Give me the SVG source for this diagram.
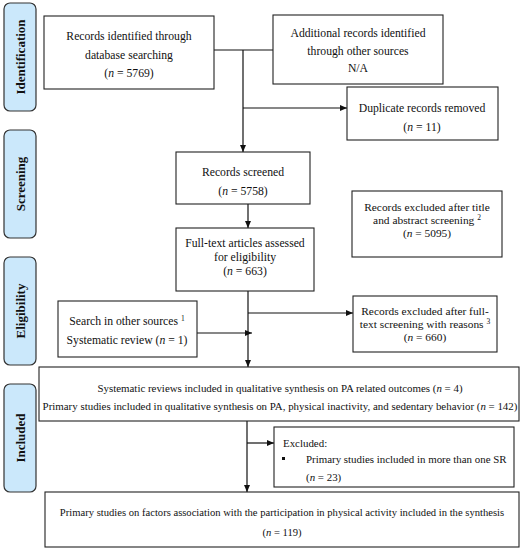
<svg xmlns="http://www.w3.org/2000/svg" width="529" height="550" viewBox="0 0 529 550">
<defs>
<marker id="arr" markerWidth="7" markerHeight="6" refX="7" refY="3" orient="auto" markerUnits="userSpaceOnUse">
<path d="M0,0 L7,3 L0,6 Z" fill="#111"/>
</marker>
<style>
.stage{fill:#cbe8fb;stroke:#333;stroke-width:1.2}
.stxt{font-family:"Liberation Serif","Times New Roman",serif;font-weight:bold;font-size:13px;fill:#111;text-anchor:middle}
.box{fill:#fff;stroke:#222;stroke-width:1.1}
.t{font-family:"Liberation Serif","Times New Roman",serif;font-size:11.7px;fill:#111;text-anchor:middle}
.m{font-size:11.4px}
.w{font-size:10.9px}
.f{font-size:10.6px}
.l{text-anchor:start}
.sup{font-size:7.5px}
.c{fill:none;stroke:#111;stroke-width:1.2}
.ca{fill:none;stroke:#111;stroke-width:1.2;marker-end:url(#arr)}
</style>
</defs>
<rect width="529" height="550" fill="#fff"/>

<g id="stage-identification">
<rect class="stage" x="4" y="3" width="32" height="108" rx="6"/>
<text class="stxt" transform="translate(25,57) rotate(-90)">Identification</text>
</g>
<g id="stage-screening">
<rect class="stage" x="4" y="130" width="32" height="108" rx="6"/>
<text class="stxt" transform="translate(25,184) rotate(-90)">Screening</text>
</g>
<g id="stage-eligibility">
<rect class="stage" x="4" y="257" width="32" height="108" rx="6"/>
<text class="stxt" transform="translate(25,311) rotate(-90)">Eligibility</text>
</g>
<g id="stage-included">
<rect class="stage" x="4" y="384" width="32" height="108" rx="6"/>
<text class="stxt" transform="translate(25,438) rotate(-90)">Included</text>
</g>

<g id="connectors">
<path class="c" d="M214,50 H273"/>
<path class="ca" d="M243,50 V152"/>
<path class="ca" d="M243,108 H347"/>
<path class="ca" d="M248,204 V228"/>
<path class="ca" d="M248,291 V367"/>
<path class="ca" d="M248,313 H353"/>
<path class="ca" d="M197,333 H252"/>
<path class="ca" d="M247,421 V492"/>
<path class="ca" d="M247,443 H274"/>
</g>

<g id="n-db">
<rect class="box" x="44" y="16" width="170" height="73"/>
<text class="t" x="129" y="40">Records identified through</text>
<text class="t" x="129" y="58.5">database searching</text>
<text class="t" x="129" y="77">(<tspan font-style="italic">n</tspan> = 5769)</text>
</g>
<g id="n-additional">
<rect class="box" x="273" y="15" width="170" height="69"/>
<text class="t" x="358" y="37">Additional records identified</text>
<text class="t" x="358" y="55">through other sources</text>
<text class="t" x="358" y="72">N/A</text>
</g>
<g id="n-duplicates">
<rect class="box" x="347" y="87" width="151" height="53"/>
<text class="t" x="422" y="112">Duplicate records removed</text>
<text class="t" x="422" y="131">(<tspan font-style="italic">n</tspan> = 11)</text>
</g>
<g id="n-screened">
<rect class="box" x="176" y="152" width="134" height="52"/>
<text class="t" x="243" y="176">Records screened</text>
<text class="t" x="243" y="195">(<tspan font-style="italic">n</tspan> = 5758)</text>
</g>
<g id="n-excluded-title">
<rect class="box" x="352" y="191" width="150" height="66"/>
<text class="t m" x="427" y="211">Records excluded after title</text>
<text class="t m" x="427" y="224">and abstract screening <tspan class="sup" dy="-4">2</tspan></text>
<text class="t m" x="427" y="237">(<tspan font-style="italic">n</tspan> = 5095)</text>
</g>
<g id="n-fulltext">
<rect class="box" x="176" y="228" width="138" height="63"/>
<text class="t" x="245" y="247">Full-text articles assessed</text>
<text class="t" x="245" y="261">for eligibility</text>
<text class="t" x="245" y="275">(<tspan font-style="italic">n</tspan> = 663)</text>
</g>
<g id="n-other-sources">
<rect class="box" x="58" y="301" width="139" height="56"/>
<text class="t" x="127" y="325">Search in other sources <tspan class="sup" dy="-4">1</tspan></text>
<text class="t" x="127" y="344">Systematic review (<tspan font-style="italic">n</tspan> = 1)</text>
</g>
<g id="n-excluded-fulltext">
<rect class="box" x="353" y="296" width="144" height="56"/>
<text class="t m" x="425" y="315">Records excluded after full-</text>
<text class="t m" x="425" y="328">text screening with reasons <tspan class="sup" dy="-4">3</tspan></text>
<text class="t m" x="425" y="341">(<tspan font-style="italic">n</tspan> = 660)</text>
</g>
<g id="n-included">
<rect class="box" x="39" y="367" width="480" height="54"/>
<text class="t w" x="280" y="392">Systematic reviews included in qualitative synthesis on PA related outcomes (<tspan font-style="italic">n</tspan> = 4)</text>
<text class="t w" x="280" y="410">Primary studies included in qualitative synthesis on PA, physical inactivity, and sedentary behavior (<tspan font-style="italic">n</tspan> = 142)</text>
</g>
<g id="n-excluded-sr">
<rect class="box" x="274" y="427" width="240" height="60"/>
<text class="t w l" x="283" y="447">Excluded:</text>
<rect x="282" y="457" width="3" height="3" fill="#111"/>
<text class="t w l" x="306" y="463">Primary studies included in more than one SR</text>
<text class="t w l" x="306" y="481">(<tspan font-style="italic">n</tspan> = 23)</text>
</g>
<g id="n-final">
<rect class="box" x="45" y="492" width="474" height="55"/>
<text class="t f" x="282" y="516">Primary studies on factors association with the participation in physical activity included in the synthesis</text>
<text class="t f" x="282" y="536">(<tspan font-style="italic">n</tspan> = 119)</text>
</g>
</svg>
